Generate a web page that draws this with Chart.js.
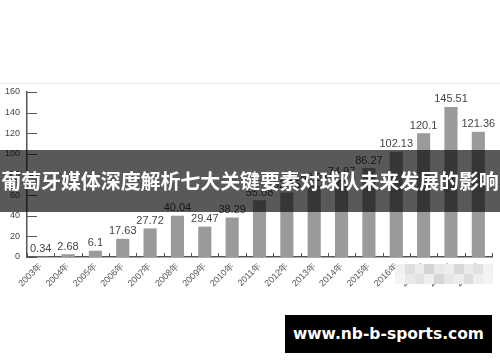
<!DOCTYPE html>
<html>
<head>
<meta charset="utf-8">
<script src="https://cdn.jsdelivr.net/npm/chart.js@4/dist/chart.umd.min.js"></script>
<style>
  html, body { margin: 0; padding: 0; background: #fff; }
  #wrap { position: relative; width: 500px; height: 362px; overflow: hidden; font-family: "Liberation Sans", Arial, sans-serif; }
  #c { position: absolute; left: 0; top: 0; }
  #topline { position: absolute; left: 0; top: 83px; width: 500px; height: 1px; background: #ececec; }
  #banner { position: absolute; left: 0; top: 150px; width: 500px; height: 62px; background: rgba(0,0,0,0.65);
            color: #fff; font-family: "Noto Sans CJK SC", sans-serif; font-weight: bold; font-size: 20px;
            line-height: 62px; white-space: nowrap; letter-spacing: -0.1px; text-align: center; }
  #mosaic { position: absolute; left: 395px; top: 264px; width: 98px; height: 20px; display: grid;
            grid-template-columns: repeat(10, 1fr); grid-template-rows: repeat(2, 1fr); }
  #mosaic div { background: #e6e6e6; }
  #wm { position: absolute; left: 285px; top: 315px; width: 207px; height: 38px; background: #000; color: #fff;
        font-family: "DejaVu Sans", sans-serif; font-weight: bold; font-size: 15.5px; line-height: 38px; text-align: center; }
</style>
</head>
<body>
<div id="wrap">
  <div id="topline"></div>
  <canvas id="c" width="500" height="362"></canvas>
  <div id="mosaic">
    <div style="background:#f0f0f0"></div><div style="background:#dedede"></div><div style="background:#ececec"></div><div style="background:#d4d4d4"></div><div style="background:#e8e8e8"></div><div style="background:#ededed"></div><div style="background:#d8d8d8"></div><div style="background:#eaeaea"></div><div style="background:#e0e0e0"></div><div style="background:#f2f2f2"></div>
    <div style="background:#f4f4f4"></div><div style="background:#e9e9e9"></div><div style="background:#e2e2e2"></div><div style="background:#eeeeee"></div><div style="background:#d6d6d6"></div><div style="background:#e6e6e6"></div><div style="background:#ececec"></div><div style="background:#dcdcdc"></div><div style="background:#eeeeee"></div><div style="background:#f3f3f3"></div>
  </div>
  <div id="banner">葡萄牙媒体深度解析七大关键要素对球队未来发展的影响</div>
  <div id="wm">www.nb-b-sports.com</div>
</div>
<script>
const categories = ["2003年","2004年","2005年","2006年","2007年","2008年","2009年","2010年","2011年","2012年","2013年","2014年","2015年","2016年","2017年","2018年","2019年"];
const values = [0.34, 2.68, 6.1, 17.63, 27.72, 40.04, 29.47, 38.29, 55.08, 62.55, 69.33, 74.97, 86.27, 102.13, 120.1, 145.51, 121.36];
const yTicks = [0, 20, 40, 60, 80, 100, 120, 140, 160];

const valueLabels = {
  id: 'valueLabels',
  afterDatasetsDraw(chart) {
    const ctx = chart.ctx;
    const meta = chart.getDatasetMeta(0);
    ctx.save();
    ctx.font = '11px "Liberation Sans", Arial, sans-serif';
    ctx.fillStyle = '#444';
    ctx.textAlign = 'center';
    ctx.textBaseline = 'bottom';
    meta.data.forEach((bar, i) => {
      ctx.fillText(String(values[i]), bar.x, bar.y - 2);
    });
    ctx.restore();
  }
};

const innerTicks = {
  id: 'innerTicks',
  afterDraw(chart) {
    const ctx = chart.ctx;
    const xs = chart.scales.x, ys = chart.scales.y;
    const area = chart.chartArea;
    ctx.save();
    ctx.strokeStyle = '#555';
    ctx.lineWidth = 1;
    ctx.beginPath();
    yTicks.forEach(v => {
      const y = Math.round(ys.getPixelForValue(v)) + 0.5;
      ctx.moveTo(area.left, y);
      ctx.lineTo(area.left + 10, y);
    });
    for (let i = 0; i <= categories.length; i++) {
      const x = Math.round(xs.getPixelForValue(i - 0.5)) + 0.5;
      ctx.moveTo(x, area.bottom);
      ctx.lineTo(x, area.bottom - 4);
    }
    ctx.stroke();
    ctx.restore();
  }
};

new Chart(document.getElementById('c'), {
  type: 'bar',
  data: {
    labels: categories,
    datasets: [{
      data: values,
      backgroundColor: '#9a9a9a',
      barPercentage: 0.48,
      categoryPercentage: 1.0
    }]
  },
  options: {
    responsive: false,
    animation: false,
    devicePixelRatio: 1,
    layout: { padding: { top: 92, right: 8, left: 0, bottom: 0 } },
    plugins: { legend: { display: false }, tooltip: { enabled: false } },
    scales: {
      x: {
        grid: { display: false, drawTicks: false },
        border: { display: true, color: '#555', width: 1.5 },
        ticks: {
          color: '#555',
          font: { size: 9, family: '"Liberation Sans", Arial, sans-serif' },
          maxRotation: 45, minRotation: 45, padding: 4, autoSkip: false
        },
        afterFit(scale) { scale.height = 105; }
      },
      y: {
        min: 0, max: 160,
        grid: { display: false, drawTicks: false },
        border: { display: true, color: '#555', width: 1.5 },
        afterBuildTicks(scale) { scale.ticks = yTicks.map(v => ({ value: v })); },
        ticks: {
          color: '#444',
          font: { size: 9, family: '"Liberation Sans", Arial, sans-serif' },
          padding: 7
        },
        afterFit(scale) { scale.width = 27; }
      }
    }
  },
  plugins: [valueLabels, innerTicks]
});
</script>
</body>
</html>
